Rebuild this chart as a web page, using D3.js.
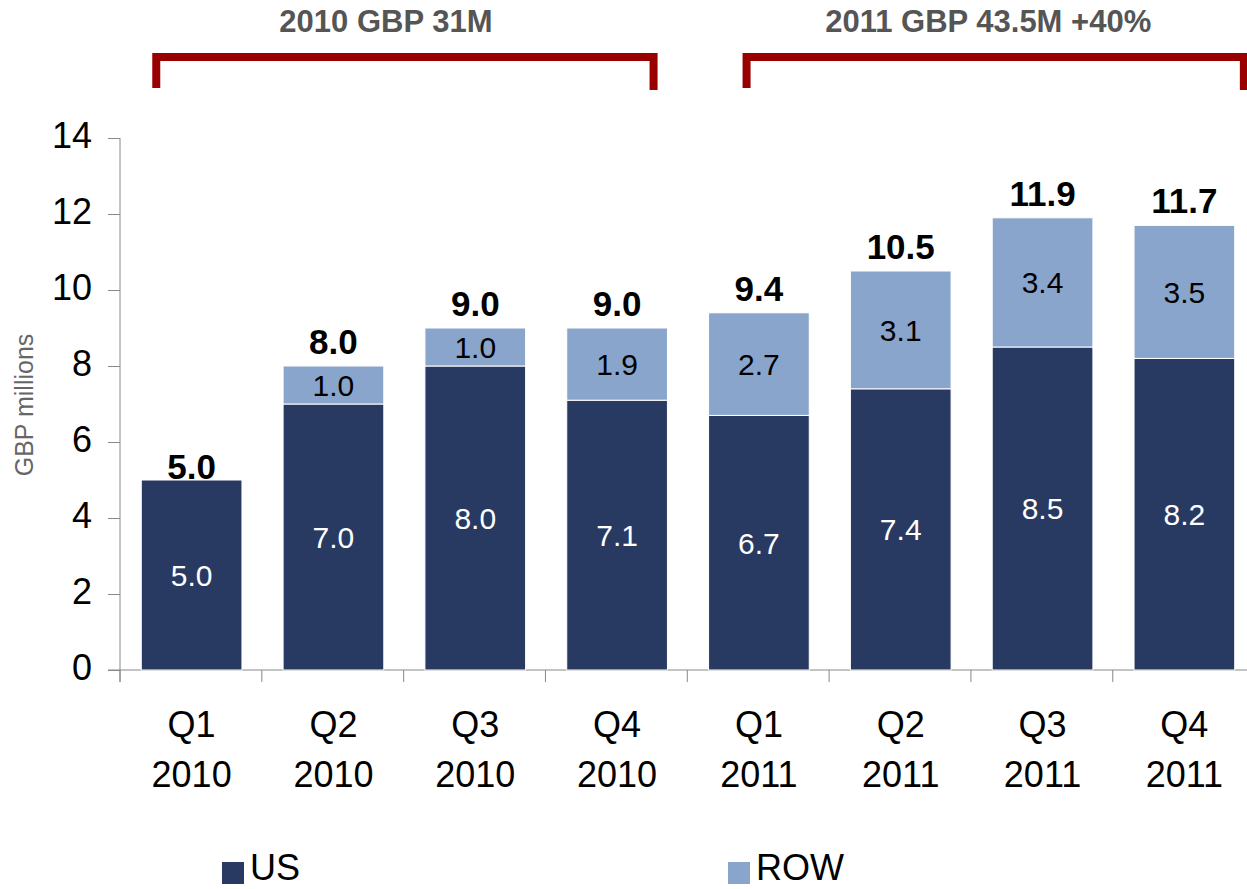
<!DOCTYPE html>
<html>
<head>
<meta charset="utf-8">
<script src="https://cdn.jsdelivr.net/npm/d3@7"></script>
<style>
  body { margin: 0; background: #fff; }
  svg { display: block; font-family: "Liberation Sans", Arial, sans-serif; }
</style>
</head>
<body>
<div id="chart"></div>
<script>
// quarterly revenue, GBP millions
const quarters = ['Q1|2010', 'Q2|2010', 'Q3|2010', 'Q4|2010', 'Q1|2011', 'Q2|2011', 'Q3|2011', 'Q4|2011'];
const usValues = [5.0, 7.0, 8.0, 7.1, 6.7, 7.4, 8.5, 8.2];
const rowValues = [0, 1.0, 1.0, 1.9, 2.7, 3.1, 3.4, 3.5];
const totals = [5.0, 8.0, 9.0, 9.0, 9.4, 10.5, 11.9, 11.7];
const yTicks = [0, 2, 4, 6, 8, 10, 12, 14];
const groups = [
  { label: '2010 GBP 31M', from: 0, to: 3 },
  { label: '2011 GBP 43.5M +40%', from: 4, to: 7 }
];
const seriesNames = ['US', 'ROW'];

const W = 1247, H = 889;
const C_US = '#293a62', C_ROW = '#8aa5cb', C_RED = '#990000';

const svg = d3.select('#chart').append('svg')
  .attr('width', W).attr('height', H);

const x = d3.scaleBand().domain(d3.range(quarters.length)).range([120, 1256]).paddingInner(0.29).paddingOuter(0.15);
const y = d3.scaleLinear().domain([0, 14]).range([670, 138]);

// axes
const yAxis = svg.append('g').attr('transform', 'translate(120,0)')
  .call(d3.axisLeft(y).tickValues(yTicks).tickSize(12).tickPadding(16).tickFormat(d3.format('d')));
yAxis.select('.domain').attr('stroke', '#888').attr('d', `M-0,${y(14)}V${y(0) + 12}`);
yAxis.selectAll('.tick line').attr('stroke', '#888');
yAxis.selectAll('.tick text').style('font-size', '36px').attr('fill', '#000').attr('dy', '0.26em');

const step = x.step();
const xTickPos = d3.range(quarters.length + 1).map(i => 120 + i * step);
const xAxis = svg.append('g');
xAxis.append('line').attr('x1', 108).attr('x2', W).attr('y1', y(0)).attr('y2', y(0)).attr('stroke', '#888');
xAxis.selectAll('.xt').data(xTickPos).enter().append('line')
  .attr('x1', d => d).attr('x2', d => d).attr('y1', y(0)).attr('y2', y(0) + 12).attr('stroke', '#888');

const xl = svg.append('g').selectAll('text').data(quarters).enter().append('text')
  .attr('text-anchor', 'middle').style('font-size', '36px').attr('fill', '#000');
xl.append('tspan').attr('x', (d, i) => x(i) + x.bandwidth() / 2).attr('y', 737).text(d => d.split('|')[0]);
xl.append('tspan').attr('x', (d, i) => x(i) + x.bandwidth() / 2).attr('y', 787).text(d => d.split('|')[1]);

svg.append('text')
  .attr('transform', `translate(33,${405}) rotate(-90)`)
  .attr('text-anchor', 'middle').style('font-size', '25px').attr('fill', '#666')
  .text('GBP millions');

// stacked bars
const stackData = quarters.map((q, i) => ({ i, US: usValues[i], ROW: rowValues[i] }));
const stacked = d3.stack().keys(seriesNames)(stackData);
const colors = { US: C_US, ROW: C_ROW };

stacked.forEach(layer => {
  svg.append('g').selectAll('rect').data(layer.filter(d => d[1] > d[0])).enter().append('rect')
    .attr('x', d => x(d.data.i))
    .attr('width', x.bandwidth())
    .attr('y', d => y(d[1]))
    .attr('height', d => y(d[0]) - y(d[1]))
    .attr('fill', colors[layer.key])
    .attr('stroke', '#fff').attr('stroke-width', 1);

  svg.append('g').selectAll('text').data(layer.filter(d => d[1] > d[0])).enter().append('text')
    .attr('x', d => x(d.data.i) + x.bandwidth() / 2)
    .attr('y', d => (y(d[0]) + y(d[1])) / 2)
    .attr('dy', '0.36em')
    .attr('text-anchor', 'middle')
    .style('font-size', '30px')
    .attr('fill', layer.key === 'US' ? '#fff' : '#000')
    .text(d => d3.format('.1f')(d[1] - d[0]));
});

// totals
svg.append('g').selectAll('text').data(totals).enter().append('text')
  .attr('x', (d, i) => x(i) + x.bandwidth() / 2)
  .attr('y', (d, i) => y(d) - (i === 0 ? 1 : 12))
  .attr('text-anchor', 'middle')
  .style('font-size', '35px').style('font-weight', 'bold').attr('fill', '#000')
  .text(d => d3.format('.1f')(d));

// year brackets
const bracketW = 4 * step - 70;
const bracketStart = [15, 38];
const titleShift = [-19, -7];
groups.forEach((g, gi) => {
  const x0 = x(g.from) + bracketStart[gi], x1 = x0 + bracketW;
  svg.append('path')
    .attr('d', `M${x0},88V57H${x1}V90`)
    .attr('fill', 'none').attr('stroke', C_RED).attr('stroke-width', 8);
  svg.append('text')
    .attr('x', (x0 + x1) / 2 + titleShift[gi]).attr('y', 32)
    .attr('text-anchor', 'middle')
    .style('font-size', '31px').style('font-weight', 'bold').attr('fill', '#555')
    .text(g.label);
});

// legend
const legendX = [222, 728];
seriesNames.forEach((s, i) => {
  svg.append('rect').attr('x', legendX[i]).attr('y', 862).attr('width', 22).attr('height', 22).attr('fill', colors[s]);
  svg.append('text').attr('x', legendX[i] + 28).attr('y', 880)
    .style('font-size', '36px').attr('fill', '#000').text(s);
});
</script>
</body>
</html>
